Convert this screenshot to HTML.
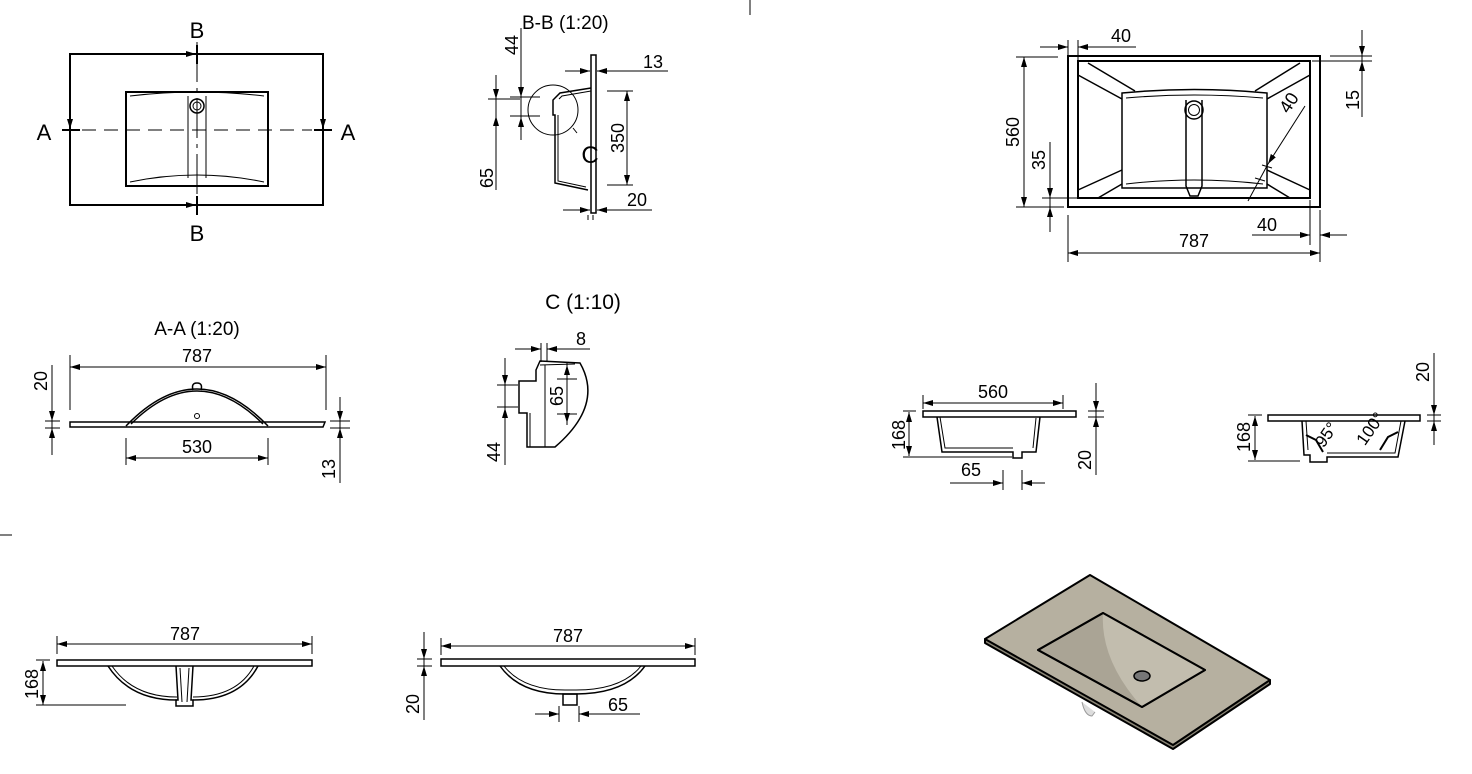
<!DOCTYPE html>
<html><head><style>
html,body{margin:0;padding:0;background:#fff}
svg{display:block}
text{font-family:"Liberation Sans",Arial,sans-serif;fill:#000}
</style></head><body>
<svg width="1472" height="774" viewBox="0 0 1472 774" xmlns="http://www.w3.org/2000/svg">
<defs>
<marker id="a" viewBox="0 0 10 6" refX="10" refY="3" markerWidth="10" markerHeight="6" markerUnits="userSpaceOnUse" orient="auto-start-reverse"><path d="M0,0L10,3L0,6z" fill="#000"/></marker>
</defs>
<g stroke="#000" fill="none" stroke-width="1">
<line x1="750" y1="0" x2="750" y2="15"/>
<line x1="0" y1="535" x2="12" y2="535"/>

<rect x="70" y="54" width="253" height="151" stroke-width="2"/>
<path d="M126,92 L268,92 L268,186 L126,186 Z" stroke-width="2"/>
<path d="M130,96 Q197,88 264,96 M130,182 Q197,168 264,182"/>
<line x1="188" y1="96" x2="188" y2="178"/><line x1="206" y1="96" x2="206" y2="178"/>
<circle cx="197" cy="106" r="7" stroke-width="1.5"/><circle cx="197" cy="106" r="4"/>
<line x1="82" y1="130" x2="312" y2="130" stroke-dasharray="14,8"/>
<line x1="197" y1="42" x2="197" y2="215" stroke-dasharray="40,6,4,6"/>
<line x1="62" y1="130" x2="80" y2="130" stroke-width="2"/><line x1="314" y1="130" x2="332" y2="130" stroke-width="2"/>
<line x1="197" y1="45" x2="197" y2="64" stroke-width="2"/><line x1="197" y1="196" x2="197" y2="215" stroke-width="2"/>
<line x1="70" y1="90" x2="70" y2="129" marker-end="url(#a)"/>
<line x1="323" y1="90" x2="323" y2="129" marker-end="url(#a)"/>
<line x1="160" y1="54" x2="196" y2="54" marker-end="url(#a)"/>
<line x1="160" y1="205" x2="196" y2="205" marker-end="url(#a)"/>

<path d="M591,55 L596,55 L596,213 L591,213 Z" stroke-width="1.5"/>
<path d="M591,88 L560,93 L553,100 L553,115 L555,115 L555,183 L588,190" stroke-width="1.5"/>
<path d="M591,91 L562,96 L559,99 M558,115 L558,181 L586,187"/>
<circle cx="553" cy="110" r="25"/>
<line x1="573" y1="128" x2="577" y2="133"/>
<line x1="521" y1="28" x2="521" y2="140"/><line x1="521" y1="70" x2="521" y2="97" marker-end="url(#a)"/><line x1="521" y1="135" x2="521" y2="117" marker-end="url(#a)"/>
<line x1="510" y1="97" x2="540" y2="97"/><line x1="510" y1="116" x2="540" y2="116"/>
<line x1="496" y1="75" x2="496" y2="190"/><line x1="496" y1="80" x2="496" y2="99" marker-end="url(#a)"/><line x1="496" y1="130" x2="496" y2="116" marker-end="url(#a)"/>
<line x1="488" y1="99" x2="520" y2="99"/>
<line x1="627" y1="91" x2="627" y2="185" marker-start="url(#a)" marker-end="url(#a)"/>
<line x1="607" y1="91" x2="633" y2="91"/><line x1="607" y1="185" x2="633" y2="185"/>
<line x1="565" y1="71" x2="590" y2="71" marker-end="url(#a)"/><line x1="620" y1="71" x2="597" y2="71" marker-end="url(#a)"/><line x1="597" y1="71" x2="668" y2="71"/>
<line x1="563" y1="210" x2="590" y2="210" marker-end="url(#a)"/><line x1="620" y1="210" x2="597" y2="210" marker-end="url(#a)"/><line x1="597" y1="210" x2="652" y2="210"/>
<line x1="588" y1="215" x2="588" y2="220"/><line x1="593" y1="215" x2="593" y2="220"/>

<path d="M540,361 L580,363 Q604,405 555,447 L527,447 L527,413 L519,413 L519,381 L536,381 L536,370 Z" stroke-width="1.5"/>
<path d="M545,365 L545,447 M530,413 L530,447 M540,365 L575,364"/>
<line x1="515" y1="349" x2="541" y2="349" marker-end="url(#a)"/><line x1="568" y1="349" x2="547" y2="349" marker-end="url(#a)"/><line x1="547" y1="349" x2="590" y2="349"/>
<line x1="541" y1="343" x2="541" y2="362"/><line x1="547" y1="343" x2="547" y2="362"/>
<line x1="567" y1="362" x2="567" y2="425"/><line x1="567" y1="375" x2="567" y2="365" marker-end="url(#a)"/><line x1="567" y1="412" x2="567" y2="423" marker-end="url(#a)"/>
<line x1="557" y1="379" x2="577" y2="379"/><line x1="557" y1="414" x2="577" y2="414"/>
<line x1="505" y1="358" x2="505" y2="465"/><line x1="505" y1="365" x2="505" y2="385" marker-end="url(#a)"/><line x1="505" y1="420" x2="505" y2="408" marker-end="url(#a)"/>
<line x1="497" y1="385" x2="518" y2="385"/><line x1="497" y1="407" x2="518" y2="407"/>

<line x1="70" y1="367" x2="326" y2="367" marker-start="url(#a)" marker-end="url(#a)"/>
<line x1="70" y1="355" x2="70" y2="410"/><line x1="326" y1="355" x2="326" y2="410"/>
<path d="M70,422 L325,422 L323,427 L70,427 Z" stroke-width="1.5"/>
<path d="M126,426 Q197,352 268,426 M131,424 Q197,358 263,424" stroke-width="1.5"/>
<path d="M193,390 Q191,383 197,383 Q203,383 201,390" stroke-width="1.5"/>
<circle cx="197" cy="416" r="2.5"/>
<line x1="126" y1="438" x2="126" y2="465"/><line x1="268" y1="438" x2="268" y2="465"/>
<line x1="126" y1="458" x2="268" y2="458" marker-start="url(#a)" marker-end="url(#a)"/>
<line x1="52" y1="365" x2="52" y2="455"/><line x1="52" y1="405" x2="52" y2="421" marker-end="url(#a)"/><line x1="52" y1="445" x2="52" y2="428" marker-end="url(#a)"/>
<line x1="45" y1="421" x2="60" y2="421"/><line x1="45" y1="428" x2="60" y2="428"/>
<line x1="340" y1="397" x2="340" y2="483"/><line x1="340" y1="408" x2="340" y2="421" marker-end="url(#a)"/><line x1="340" y1="440" x2="340" y2="428" marker-end="url(#a)"/>
<line x1="330" y1="421" x2="350" y2="421"/><line x1="330" y1="428" x2="350" y2="428"/>

<rect x="1068" y="56" width="252" height="151" stroke-width="2"/>
<rect x="1078" y="61" width="232" height="137" stroke-width="2"/>
<path d="M1122,93 Q1194,86 1267,93 L1267,188 L1122,188 Z" stroke-width="1.5"/>
<path d="M1126,98 Q1194,92 1263,98 M1126,184 Q1194,176 1263,184"/>
<path d="M1186,100 L1186,186 L1190,196 L1198,196 L1202,186 L1202,100" stroke-width="1.5"/>
<circle cx="1194" cy="110" r="9" stroke-width="1.5"/><circle cx="1194" cy="110" r="5.5"/>
<path d="M1088,63 L1135,91 M1078,75 L1122,99 M1300,63 L1255,91 M1310,75 L1267,99 M1078,190 L1122,170 M1098,198 L1122,184 M1310,190 L1267,170 M1290,198 L1267,184" stroke-width="1.5"/>
<line x1="1024" y1="57" x2="1024" y2="207" marker-start="url(#a)" marker-end="url(#a)"/>
<line x1="1016" y1="57" x2="1058" y2="57"/><line x1="1016" y1="207" x2="1064" y2="207"/>
<line x1="1050" y1="142" x2="1050" y2="232"/><line x1="1050" y1="180" x2="1050" y2="198" marker-end="url(#a)"/><line x1="1050" y1="225" x2="1050" y2="207" marker-end="url(#a)"/>
<line x1="1042" y1="198" x2="1078" y2="198"/>
<line x1="1040" y1="47" x2="1068" y2="47" marker-end="url(#a)"/><line x1="1100" y1="47" x2="1078" y2="47" marker-end="url(#a)"/><line x1="1078" y1="47" x2="1136" y2="47"/>
<line x1="1068" y1="40" x2="1068" y2="56"/><line x1="1078" y1="40" x2="1078" y2="60"/>
<line x1="1362" y1="30" x2="1362" y2="117"/><line x1="1362" y1="40" x2="1362" y2="56" marker-end="url(#a)"/><line x1="1362" y1="100" x2="1362" y2="61" marker-end="url(#a)"/>
<line x1="1330" y1="56" x2="1372" y2="56"/><line x1="1312" y1="61" x2="1372" y2="61"/>
<line x1="1068" y1="253" x2="1320" y2="253" marker-start="url(#a)" marker-end="url(#a)"/>
<line x1="1068" y1="215" x2="1068" y2="262"/><line x1="1320" y1="210" x2="1320" y2="262"/><line x1="1310" y1="200" x2="1310" y2="245"/>
<line x1="1252" y1="235" x2="1310" y2="235" marker-end="url(#a)"/><line x1="1347" y1="235" x2="1320" y2="235" marker-end="url(#a)"/>
<line x1="1305" y1="106" x2="1268" y2="164" marker-end="url(#a)"/><line x1="1268" y1="164" x2="1248" y2="201"/>
<line x1="1262" y1="165" x2="1272" y2="168"/><line x1="1255" y1="178" x2="1265" y2="181"/>

<rect x="923" y="411" width="153" height="6" stroke-width="1.5"/>
<path d="M937,417 L942,452 L1013,452 L1013,458 L1022,458 L1022,452 L1036,452 L1040,417" stroke-width="1.5"/>
<path d="M940,417 L945,448 L1013,448 M1036,418 L1033,448"/>
<line x1="923" y1="403" x2="1063" y2="403" marker-start="url(#a)" marker-end="url(#a)"/>
<line x1="923" y1="395" x2="923" y2="409"/><line x1="1063" y1="395" x2="1063" y2="409"/>
<line x1="909" y1="412" x2="909" y2="456" marker-start="url(#a)" marker-end="url(#a)"/>
<line x1="903" y1="411" x2="916" y2="411"/><line x1="903" y1="457" x2="1012" y2="457"/>
<line x1="1096" y1="383" x2="1096" y2="475"/><line x1="1096" y1="395" x2="1096" y2="411" marker-end="url(#a)"/><line x1="1096" y1="430" x2="1096" y2="417" marker-end="url(#a)"/>
<line x1="1088" y1="411" x2="1104" y2="411"/><line x1="1088" y1="417" x2="1104" y2="417"/>
<line x1="950" y1="483" x2="1003" y2="483" marker-end="url(#a)"/><line x1="1045" y1="483" x2="1022" y2="483" marker-end="url(#a)"/>
<line x1="1003" y1="470" x2="1003" y2="490"/><line x1="1022" y1="470" x2="1022" y2="490"/>

<rect x="1268" y="415" width="152" height="6" stroke-width="1.5"/>
<path d="M1302,421 L1304,455 L1310,455 L1310,462 L1327,462 L1327,457 L1398,457 L1405,421" stroke-width="1.5"/>
<path d="M1306,421 L1308,450 M1327,453 L1395,453 L1401,421"/>
<path d="M1306,435 L1316,440 L1323,452" stroke-width="2"/>
<path d="M1398,432 L1388,437 L1380,450" stroke-width="2"/>
<line x1="1255" y1="416" x2="1255" y2="460" marker-start="url(#a)" marker-end="url(#a)"/>
<line x1="1248" y1="415" x2="1262" y2="415"/><line x1="1248" y1="461" x2="1300" y2="461"/>
<line x1="1434" y1="353" x2="1434" y2="445"/><line x1="1434" y1="400" x2="1434" y2="415" marker-end="url(#a)"/><line x1="1434" y1="435" x2="1434" y2="421" marker-end="url(#a)"/>
<line x1="1427" y1="415" x2="1441" y2="415"/><line x1="1427" y1="421" x2="1441" y2="421"/>

<line x1="57" y1="644" x2="312" y2="644" marker-start="url(#a)" marker-end="url(#a)"/>
<line x1="57" y1="636" x2="57" y2="654"/><line x1="312" y1="636" x2="312" y2="654"/>
<rect x="57" y="660" width="255" height="6" stroke-width="1.5"/>
<path d="M108,666 Q130,700 177,700 M258,666 Q240,700 193,700" stroke-width="1.5"/>
<path d="M112,666 Q133,697 177,697 M254,666 Q237,697 193,697"/>
<path d="M176,666 L178,700 L176,700 L176,706 L193,706 L193,700 L191,700 L193,666" stroke-width="1.5"/>
<line x1="180" y1="668" x2="182" y2="702"/><line x1="189" y1="668" x2="187" y2="702"/>
<line x1="43" y1="661" x2="43" y2="705" marker-start="url(#a)" marker-end="url(#a)"/>
<line x1="36" y1="660" x2="50" y2="660"/><line x1="36" y1="705" x2="126" y2="705"/>

<line x1="441" y1="646" x2="695" y2="646" marker-start="url(#a)" marker-end="url(#a)"/>
<line x1="441" y1="638" x2="441" y2="655"/><line x1="695" y1="638" x2="695" y2="655"/>
<rect x="441" y="659" width="254" height="7" stroke-width="1.5"/>
<path d="M500,666 Q520,694 565,694 L576,694 Q625,694 645,666" stroke-width="1.5"/>
<path d="M504,666 Q523,690 565,690 L576,690 Q622,690 641,666"/>
<rect x="563" y="694" width="14" height="11" stroke-width="1.5"/>
<line x1="424" y1="632" x2="424" y2="720"/><line x1="424" y1="640" x2="424" y2="659" marker-end="url(#a)"/><line x1="424" y1="680" x2="424" y2="666" marker-end="url(#a)"/>
<line x1="417" y1="659" x2="432" y2="659"/><line x1="417" y1="666" x2="432" y2="666"/>
<line x1="535" y1="714" x2="559" y2="714" marker-end="url(#a)"/><line x1="600" y1="714" x2="579" y2="714" marker-end="url(#a)"/><line x1="579" y1="714" x2="640" y2="714"/>
<line x1="559" y1="706" x2="559" y2="722"/><line x1="579" y1="706" x2="579" y2="722"/>
</g>

<g stroke="#000" stroke-width="2" stroke-linejoin="round">
<path d="M985,639 L985,643 L1173,749 L1270,684 L1270,680 Z" fill="#8a8576"/>
<path d="M1090,575 L985,639 L1173,745 L1270,680 Z" fill="#b6b0a0"/>
<path d="M1103,613 L1038,650 L1142,707 L1205,670 Z" fill="#aaa495"/>
<path d="M1103,613 Q1100,660 1142,707 L1205,670 Z" fill="#c2bdae" stroke="none"/>
<path d="M1103,613 L1038,650 L1142,707 L1205,670 Z" fill="none"/>
<ellipse cx="1142" cy="676" rx="8" ry="5" fill="#777" stroke-width="1.5"/>
<path d="M1082,702 Q1085,716 1092,716 L1095,712" fill="#ddd" stroke="#999" stroke-width="1"/>
</g>

<g font-size="18">
<text x="197" y="38" text-anchor="middle" font-size="22">B</text>
<text x="197" y="241" text-anchor="middle" font-size="22">B</text>
<text x="44" y="140" text-anchor="middle" font-size="22">A</text>
<text x="348" y="140" text-anchor="middle" font-size="22">A</text>
<text x="522" y="29" font-size="19">B-B (1:20)</text>
<text x="590" y="163" text-anchor="middle" font-size="24">C</text>
<text x="653" y="68" text-anchor="middle">13</text>
<text x="637" y="206" text-anchor="middle">20</text>
<text transform="translate(518,45) rotate(-90)" text-anchor="middle">44</text>
<text transform="translate(493,178) rotate(-90)" text-anchor="middle">65</text>
<text transform="translate(624,138) rotate(-90)" text-anchor="middle">350</text>
<text x="583" y="309" text-anchor="middle" font-size="21">C (1:10)</text>
<text x="581" y="345" text-anchor="middle">8</text>
<text transform="translate(563,396) rotate(-90)" text-anchor="middle">65</text>
<text transform="translate(500,452) rotate(-90)" text-anchor="middle">44</text>
<text x="197" y="335" text-anchor="middle" font-size="19">A-A (1:20)</text>
<text x="197" y="362" text-anchor="middle">787</text>
<text x="197" y="453" text-anchor="middle">530</text>
<text transform="translate(47,381) rotate(-90)" text-anchor="middle">20</text>
<text transform="translate(335,469) rotate(-90)" text-anchor="middle">13</text>
<text x="1121" y="42" text-anchor="middle">40</text>
<text transform="translate(1019,132) rotate(-90)" text-anchor="middle">560</text>
<text transform="translate(1045,160) rotate(-90)" text-anchor="middle">35</text>
<text transform="translate(1359,100) rotate(-90)" text-anchor="middle">15</text>
<text x="1194" y="247" text-anchor="middle">787</text>
<text x="1267" y="231" text-anchor="middle">40</text>
<text transform="translate(1294,106) rotate(-57)" text-anchor="middle">40</text>
<text x="993" y="398" text-anchor="middle">560</text>
<text transform="translate(905,435) rotate(-90)" text-anchor="middle">168</text>
<text transform="translate(1091,460) rotate(-90)" text-anchor="middle">20</text>
<text x="971" y="476" text-anchor="middle">65</text>
<text transform="translate(1250,437) rotate(-90)" text-anchor="middle">168</text>
<text transform="translate(1429,372) rotate(-90)" text-anchor="middle">20</text>
<text transform="translate(1331,438) rotate(-55)" text-anchor="middle" font-size="17">95°</text>
<text transform="translate(1375,432) rotate(-55)" text-anchor="middle" font-size="17">100°</text>
<text x="185" y="640" text-anchor="middle">787</text>
<text transform="translate(38,684) rotate(-90)" text-anchor="middle">168</text>
<text x="568" y="642" text-anchor="middle">787</text>
<text transform="translate(419,704) rotate(-90)" text-anchor="middle">20</text>
<text x="618" y="711" text-anchor="middle">65</text>
</g>
</svg>
</body></html>
